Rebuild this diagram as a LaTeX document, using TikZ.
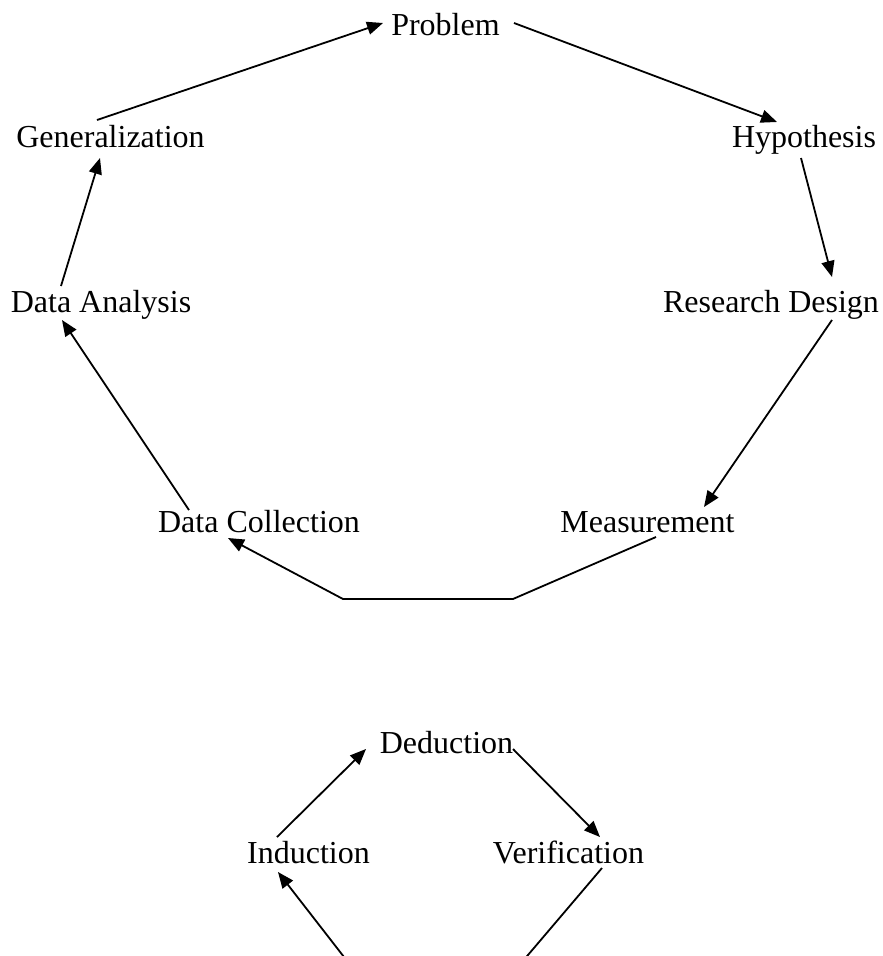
\documentclass[tikz,border=0pt]{standalone}
\usepackage{fontspec}
\setmainfont{Liberation Serif}
\usetikzlibrary{arrows.meta}
\begin{document}
\begin{tikzpicture}[x=1pt,y=-1pt,
  lbl/.style={anchor=base,inner sep=0pt,font=\fontsize{32}{38}\selectfont},
  arr/.style={line width=1.8pt,-{Triangle[length=16pt,width=13pt]}},
  ln/.style={line width=1.8pt}]
\clip (0,0) rectangle (883,956);
\fill[white] (0,0) rectangle (883,956);
% nodes
\node[lbl] (prob) at (445.5,35) {Problem};
\node[lbl] (gen) at (110.5,147) {Generalization};
\node[lbl] (hyp) at (804,147) {Hypothesis};
\node[lbl] (da) at (101,312) {Data Analysis};
\node[lbl] (rd) at (771,312) {Research Design};
\node[lbl] (dc) at (259,532) {Data Collection};
\node[lbl] (meas) at (647.5,532) {Measurement};
\node[lbl] (ded) at (446.5,753) {Deduction};
\node[lbl] (ind) at (308.5,863) {Induction};
\node[lbl] (ver) at (568.5,863) {Verification};
\coordinate (b1) at (513,599);
\coordinate (b2) at (343,599);
\coordinate (b3) at (431,1069);
% connectors
\draw[arr] ([shift={(-13.5,-27)}]gen.base) -- ([shift={(-62.5,-12)}]prob.base);
\draw[arr] ([shift={(68.5,-12)}]prob.base) -- ([shift={(-27,-25)}]hyp.base);
\draw[arr] ([shift={(-3,11)}]hyp.base) -- ([shift={(61,-35)}]rd.base);
\draw[arr] ([shift={(61,8)}]rd.base) -- ([shift={(56.5,-25)}]meas.base);
\draw[arr] ([shift={(8.5,5)}]meas.base) -- (b1) -- (b2) -- ([shift={(-31,6)}]dc.base);
\draw[arr] ([shift={(-70,-22)}]dc.base) -- ([shift={(-39,8)}]da.base);
\draw[arr] ([shift={(-40,-26)}]da.base) -- ([shift={(-10.5,11)}]gen.base);
\draw[arr] ([shift={(-31.5,-26)}]ind.base) -- ([shift={(-80.5,-4)}]ded.base);
\draw[arr] ([shift={(66.5,-4)}]ded.base) -- ([shift={(31.5,-26)}]ver.base);
\draw[arr] ([shift={(33.5,5)}]ver.base) -- (b3) -- ([shift={(-30.5,9)}]ind.base);
\end{tikzpicture}
\end{document}
